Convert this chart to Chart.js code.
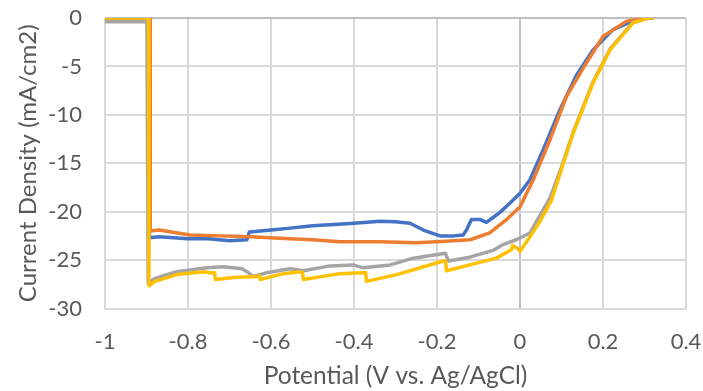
<!DOCTYPE html>
<html>
<head>
<meta charset="utf-8">
<script src="https://cdn.jsdelivr.net/npm/chart.js@4.4.1/dist/chart.umd.min.js"></script>
<style>
html,body{margin:0;padding:0;background:#fff;}
#wrap{width:703px;height:391px;position:relative;}
</style>
</head>
<body>
<div id="wrap"><canvas id="c" width="703" height="391"></canvas></div>
<script>
// Axis titles
const xTitle = "Potential (V vs. Ag/AgCl)";
const yTitle = "Current Density (mA/cm2)";

// Series 1 (blue)
const xBlue = [-1, -0.893, -0.893, -0.87, -0.8, -0.75, -0.7, -0.658, -0.652, -0.6, -0.554, -0.5, -0.458, -0.4, -0.337, -0.3, -0.265, -0.233, -0.193, -0.16, -0.137, -0.129, -0.117, -0.097, -0.081, -0.065, -0.049, -0.024, 0, 0.024, 0.056, 0.096, 0.136, 0.176, 0.224, 0.272, 0.3, 0.32];
const yBlue = [0, 0, -22.7, -22.6, -22.8, -22.8, -23.0, -22.9, -22.1, -21.9, -21.7, -21.45, -21.35, -21.2, -21.0, -21.05, -21.2, -21.9, -22.5, -22.5, -22.4, -21.9, -20.8, -20.8, -21.1, -20.6, -20.1, -19.1, -18.1, -16.7, -13.6, -9.5, -5.9, -3.3, -1.2, -0.3, 0, 0];

// Series 2 (orange)
const xOrange = [-1, -0.891, -0.891, -0.87, -0.795, -0.72, -0.65, -0.554, -0.5, -0.434, -0.337, -0.25, -0.201, -0.16, -0.12, -0.073, -0.032, 0, 0.032, 0.072, 0.112, 0.152, 0.2, 0.256, 0.296, 0.32];
const yOrange = [0, 0, -22.0, -21.9, -22.4, -22.5, -22.6, -22.8, -22.9, -23.1, -23.1, -23.2, -23.1, -23.0, -22.9, -22.2, -20.8, -19.5, -16.7, -12.6, -8.1, -5.2, -1.9, -0.35, 0, 0];

// Series 3 (gray)
const xGray = [-1, -0.899, -0.896, -0.88, -0.827, -0.755, -0.715, -0.67, -0.658, -0.642, -0.61, -0.554, -0.522, -0.458, -0.402, -0.378, -0.313, -0.257, -0.18, -0.172, -0.121, -0.065, -0.041, -0.009, 0.024, 0.056, 0.072, 0.1, 0.128, 0.176, 0.217, 0.272, 0.31, 0.32];
const yGray = [-0.4, -0.4, -27.4, -26.9, -26.2, -25.8, -25.7, -25.9, -26.2, -26.7, -26.3, -25.9, -26.1, -25.6, -25.5, -25.8, -25.5, -24.8, -24.3, -25.1, -24.7, -24.0, -23.4, -22.9, -22.2, -19.8, -18.6, -15.4, -11.8, -6.6, -3.2, -0.45, 0, 0];

// Series 4 (yellow)
const xYellow = [-1, -0.895, -0.894, -0.88, -0.827, -0.763, -0.747, -0.736, -0.734, -0.69, -0.634, -0.628, -0.626, -0.57, -0.53, -0.524, -0.522, -0.434, -0.378, -0.372, -0.37, -0.297, -0.185, -0.18, -0.177, -0.121, -0.057, -0.02, -0.018, -0.005, 0, 0.024, 0.048, 0.076, 0.1, 0.128, 0.176, 0.217, 0.272, 0.31, 0.32];
const yYellow = [0, 0, -27.65, -27.2, -26.5, -26.2, -26.3, -26.3, -27.0, -26.8, -26.7, -26.6, -27.0, -26.4, -26.2, -26.3, -27.0, -26.4, -26.3, -26.3, -27.2, -26.5, -25.1, -25.1, -26.1, -25.5, -24.8, -23.9, -23.5, -23.8, -24.1, -22.6, -21.0, -18.8, -15.6, -11.9, -6.7, -3.3, -0.5, 0, 0];

function pts(xs, ys){ return xs.map((x,i)=>({x:x, y:ys[i]})); }

const FONT = "Lato";
const TXT = "#595959";

function ds(label, xs, ys, color, order){
  return {label, data: pts(xs, ys), borderColor: color, backgroundColor: color,
    borderWidth: 3.5, pointRadius: 0, showLine: true, tension: 0, order: order,
    borderJoinStyle: 'round', borderCapStyle: 'round'};
}

const gridColor = c => (c.tick && Math.abs(c.tick.value) < 1e-9) ? '#bfbfbf' : '#d9d9d9';

new Chart(document.getElementById('c'), {
  type: 'scatter',
  data: {
    datasets: [
      ds('Series1', xBlue, yBlue, '#4472C4', 4),
      ds('Series2', xOrange, yOrange, '#ED7D31', 3),
      ds('Series3', xGray, yGray, '#A5A5A5', 2),
      ds('Series4', xYellow, yYellow, '#FFC000', 1)
    ]
  },
  options: {
    responsive: false,
    animation: false,
    layout: {padding: {top: 18, right: 17, left: 0, bottom: 0}},
    plugins: {legend: {display: false}, tooltip: {enabled: false}},
    scales: {
      x: {
        type: 'linear', min: -1, max: 0.4,
        ticks: {stepSize: 0.2, padding: 20, color: TXT, font: {family: FONT, size: 22},
          callback: v => String(Math.round(v*10)/10)},
        grid: {drawTicks: false, lineWidth: 2, color: gridColor},
        border: {display: false},
        title: {display: true, text: xTitle, color: TXT, font: {family: FONT, size: 24.5}, padding: {top: 4, bottom: 0}},
        afterFit: s => { s.height = 391 - 308.5; s.paddingLeft = 0; s.paddingRight = 0; }
      },
      y: {
        type: 'linear', min: -30, max: 0,
        ticks: {stepSize: 5, padding: 23, color: TXT, font: {family: FONT, size: 22}},
        grid: {drawTicks: false, lineWidth: 2, color: gridColor},
        border: {display: false},
        title: {display: true, text: yTitle, color: TXT, font: {family: FONT, size: 24}, padding: {top: 14, bottom: 4}},
        afterFit: s => { s.width = 105; s.paddingTop = 0; s.paddingBottom = 0; }
      }
    }
  }
});
</script>
</body>
</html>
